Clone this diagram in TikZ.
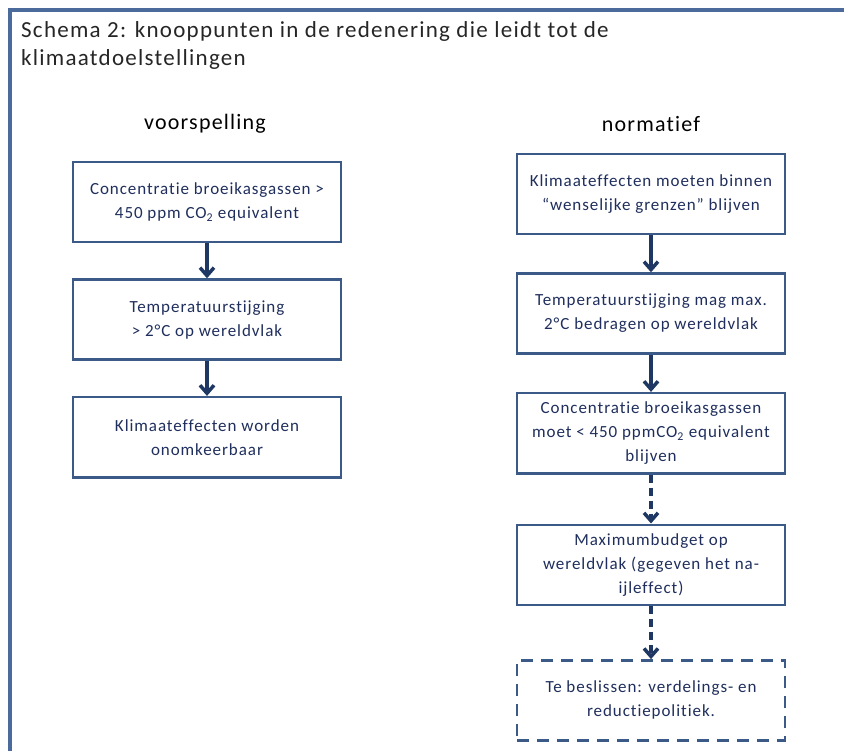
\documentclass[tikz,border=0pt]{standalone}
\usepackage{fontspec}
\setmainfont{Carlito}[LetterSpace=5.5, Ligatures=CommonOff]
\usetikzlibrary{arrows.meta,positioning}
\definecolor{framecol}{HTML}{4A6B9B}
\definecolor{boxline}{HTML}{3C5A88}
\definecolor{arrowcol}{HTML}{1F3763}
\definecolor{boxtext}{HTML}{1F2E5C}

\begin{document}
\begin{tikzpicture}[x=1pt, y=-1pt, node distance=35pt,
  box/.style={draw=boxline, line width=2.6pt, minimum width=268pt, minimum height=80pt,
    inner sep=0pt, align=center, text=boxtext, font=\fontsize{17}{24}\selectfont},
  openbox/.style={box, dash pattern=on 12pt off 8pt},
  flow/.style={draw=arrowcol, line width=3.5pt, -{Straight Barb[length=8pt,width=14pt]}},
  openflow/.style={flow, dash pattern=on 8pt off 5pt},
  head/.style={font=\fontsize{22}{26}\selectfont}]
  \useasboundingbox (0,0) rectangle (844,751);

  % Frame (runs off the page on the right and at the bottom)
  \draw[framecol, line width=4pt] (10,770) |- (860,10);

  % Title
  \node[anchor=north west, align=left, inner sep=0pt, text=black!85,
    font=\fontsize{23}{28}\selectfont] (title) at (21,21)
    {Schema 2: knooppunten in de redenering die leidt tot de\\klimaatdoelstellingen};

  % Column headings
  \node[head] (vhead) at (205,124) {voorspelling};
  \node[head] (nhead) at (651,124) {normatief};

  % Left column: voorspelling
  \node[box] (conc) at (207,202) {Concentratie broeikasgassen >\\450 ppm CO\textsubscript{2} equivalent};
  \node[box, below=of conc] (temp) {Temperatuurstijging\\> 2°C op wereldvlak};
  \node[box, below=of temp] (eff) {Klimaateffecten worden\\onomkeerbaar};

  % Right column: normatief
  \node[box] (effn) at (651,194) {Klimaateffecten moeten binnen\\“wenselijke grenzen” blijven};
  \node[box, below=37pt of effn] (tempn) {Temperatuurstijging mag max.\\2°C bedragen op wereldvlak};
  \node[box, below=37pt of tempn] (concn) {Concentratie broeikasgassen\\moet < 450 ppmCO\textsubscript{2} equivalent\\blijven};
  \node[box, below=49pt of concn] (budget) {Maximumbudget op\\wereldvlak (gegeven het na-\\ijleffect)};
  \node[openbox, below=53pt of budget] (beslis) {Te beslissen: verdelings- en\\reductiepolitiek.};

  % Arrows
  \draw[flow] (conc.south) -- (temp.north);
  \draw[flow] (temp.south) -- (eff.north);
  \draw[flow] (effn.south) -- (tempn.north);
  \draw[flow] (tempn.south) -- (concn.north);
  \draw[openflow] (concn.south) -- (budget.north);
  \draw[openflow] (budget.south) -- (beslis.north);
\end{tikzpicture}
\end{document}
